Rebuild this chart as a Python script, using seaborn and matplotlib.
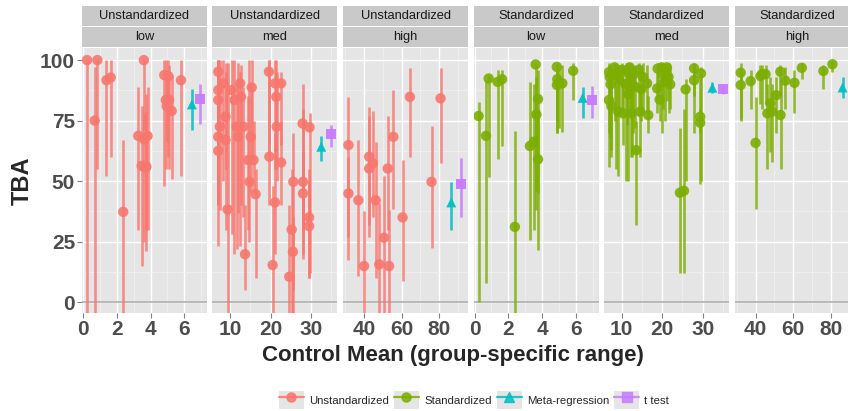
import matplotlib
matplotlib.use("Agg")
import matplotlib.pyplot as plt
from matplotlib.patches import Rectangle, Patch
from matplotlib.lines import Line2D
from matplotlib.legend_handler import HandlerTuple
from matplotlib.ticker import AutoMinorLocator, FixedLocator
import pandas as pd
import seaborn as sns


# ------------------------------------------------------------------ #
# Data: (control mean, TBA, lower, upper)
# ------------------------------------------------------------------ #

unst_low = [
    (0.24, 100, -10, 100), (0.69, 75, -10, 97), (0.85, 100, 55, 100),
    (1.39, 91.7, 52, 100), (1.64, 92.8, 60, 100), (2.38, 37.3, -10, 67),
    (3.27, 68.7, 30, 89), (3.47, 56.3, 15, 81), (3.60, 100, 71, 100),
    (3.62, 67.2, 25, 78), (3.70, 55.5, 21, 79), (3.75, 56.0, 30, 86),
    (3.82, 68.7, 30, 89), (4.81, 93.8, 48, 100), (4.90, 83.5, 55, 100),
    (4.95, 81.0, 66, 95), (5.05, 93.4, 60, 100), (5.10, 83.5, 55, 98),
    (5.25, 79.0, 51, 94), (5.80, 91.7, 52, 100),
]

unst_med = [
    (7.1, 95.2, 23, 100), (7.1, 87.6, 40, 100), (7.1, 83.5, 45, 100),
    (7.5, 72.5, 38, 100), (7.1, 68.3, 55, 80), (7.1, 62.5, 40, 85),
    (8.35, 90.4, 50, 100), (8.9, 76.6, 55, 99), (9.4, 38.3, -10, 99),
    (8.9, 67.0, 30, 95), (10.4, 87.6, 28, 100), (11.1, 83.5, 20, 100),
    (11.6, 72.5, 22, 90), (12.0, 68.3, 37, 99), (12.5, 90.4, 23, 95),
    (12.7, 84.8, 40, 98), (13.3, 72.5, 35, 89), (13.7, 19.8, 5, 40),
    (14.5, 58.7, 30, 85), (14.8, 49.7, 25, 100), (15.35, 88.7, 60, 100),
    (15.1, 68.3, 45, 90), (15.8, 58.7, 45, 75), (16.3, 44.6, 10, 55),
    (19.6, 95.2, 60, 100), (19.7, 60.1, 40, 100), (20.5, 15.3, -10, 48),
    (21.1, 90.4, 55, 100), (21.4, 84.8, 55, 100), (21.1, 41.2, 20, 70),
    (21.5, 72.5, 50, 95), (22.6, 90.4, 65, 95), (22.6, 57.7, 40, 75),
    (24.6, 10.5, -10, 40), (25.2, 30.0, -10, 55), (25.5, 20.8, -10, 35),
    (25.6, 49.7, 5, 70), (27.9, 73.8, 20, 90), (28.0, 49.7, 30, 80),
    (28.0, 44.9, 18, 62), (29.6, 72.2, 12, 78), (29.5, 35.0, 10, 55),
    (29.5, 31.4, 10, 50),
]

unst_high = [
    (31.7, 64.9, 17.4, 84.6), (31.7, 44.9, 27, 60), (37.0, 42.1, 10.7, 67),
    (40.0, 14.9, -10, 37.7), (42.7, 60.1, 27, 80.7), (42.7, 55.2, 32, 77),
    (44.6, 57.3, 35, 79), (46.2, 42.1, 10, 66), (48.1, 15.6, -10, 41),
    (50.6, 26.6, -5, 52), (52.6, 55.2, 30, 77), (53.3, 14.9, -10, 38),
    (55.6, 68.3, 38.3, 87.6), (60.5, 35.0, 8.7, 58.7), (64.4, 84.8, 60, 96.6),
    (75.9, 49.7, 22.2, 72.7), (80.7, 84.2, 57.3, 96.6),
]

std_low = [
    (0.24, 76.9, 0, 82.8), (0.68, 68.7, 7.7, 91.7), (0.84, 92.4, 51.8, 93.5),
    (1.37, 91.0, 59, 96), (1.63, 92.1, 64.5, 96), (2.39, 31.1, -10, 70.8),
    (3.28, 64.5, 25.6, 91), (3.52, 66.3, 30, 90), (3.62, 98.2, 46, 98.2),
    (3.66, 77.5, 38, 93), (3.76, 83.9, 45, 96), (3.76, 59.0, 21.5, 80),
    (4.87, 97.2, 70, 98.5), (4.90, 92.1, 75, 96), (4.88, 89.7, 70, 95),
    (5.00, 90.4, 72, 97), (5.20, 90.4, 70.4, 98), (5.84, 95.6, 83.5, 98.6),
]

std_med = [
    (6.9, 95.0, 70, 99), (7.1, 93.0, 68, 98), (7.3, 90.0, 60, 97),
    (6.9, 83.5, 56, 98), (7.5, 81.0, 63, 95), (8.3, 97.0, 75, 99),
    (8.6, 94.0, 55, 98), (9.2, 78.7, 52, 98), (9.5, 92.0, 78, 98),
    (10.1, 96.0, 80, 99), (10.4, 78.0, 65, 92), (11.0, 90.0, 50, 98),
    (11.3, 95.0, 73, 99), (11.6, 86.0, 50, 97), (12.0, 97.0, 78, 99),
    (12.3, 91.0, 60, 97), (12.5, 78.0, 60, 90), (12.9, 94.0, 70, 98),
    (13.3, 89.0, 72, 97), (13.6, 62.8, 32, 75), (14.2, 96.0, 77, 99),
    (14.6, 78.7, 60, 90), (14.9, 88.0, 75, 98), (15.3, 93.0, 78, 99),
    (16.3, 90.4, 78, 98), (16.6, 77.3, 70, 85), (18.9, 96.5, 84, 99),
    (18.8, 88.3, 78, 95), (19.4, 83.7, 75, 92), (19.9, 97.0, 70, 99),
    (20.3, 94.0, 80, 99), (20.7, 91.0, 75, 97), (21.2, 97.0, 83, 99),
    (21.6, 93.0, 78, 99), (22.0, 90.0, 80, 97), (24.4, 45.2, 12, 72),
    (25.4, 46.0, 12, 80), (25.8, 87.9, 50, 92), (27.9, 96.6, 85, 99),
    (27.9, 91.7, 70, 97), (29.6, 94.5, 50, 97), (29.4, 76.6, 49, 93),
    (29.4, 74.1, 70, 80),
]

std_high = [
    (32.1, 94.8, 75.5, 98.6), (32.1, 89.7, 75, 95), (37.4, 91.3, 80, 96),
    (40.0, 65.8, 38.3, 84.6), (42.6, 93.4, 82, 98), (43.5, 94.2, 80, 98),
    (45.3, 94.2, 82, 98), (46.3, 78.0, 55, 90), (47.9, 82.1, 62, 93),
    (48.8, 78.7, 58, 90), (51.0, 85.5, 70, 93), (53.2, 95.2, 85, 98),
    (53.3, 77.3, 55, 92), (55.8, 91.5, 80, 97), (60.7, 90.6, 78, 96),
    (64.6, 96.8, 92, 99), (76.1, 95.5, 88, 98), (80.9, 98.3, 95, 99.5),
]

# summary estimates per panel: (x, y, lower, upper)
meta_reg = {
    ("Unstandardized", "low"): (6.45, 81.7, 71, 88),
    ("Unstandardized", "med"): (32.5, 64.2, 58.4, 68.6),
    ("Unstandardized", "high"): (86.4, 41.2, 30, 49.7),
    ("Standardized", "low"): (6.40, 84.4, 76, 89),
    ("Standardized", "med"): (32.4, 88.6, 86.5, 91),
    ("Standardized", "high"): (86.3, 88.7, 84.5, 93),
}
t_test = {
    ("Unstandardized", "low"): (6.95, 84.0, 73.5, 90),
    ("Unstandardized", "med"): (35.0, 69.3, 64.2, 73.1),
    ("Unstandardized", "high"): (91.7, 49.0, 35, 59.6),
    ("Standardized", "low"): (6.95, 83.7, 76, 89.5),
    ("Standardized", "med"): (35.0, 88.0, 86, 90),
    ("Standardized", "high"): (91.7, 88.0, 85, 91),
}

scales = ["Unstandardized", "Standardized"]
levels = ["low", "med", "high"]
x_ticks = {"low": [0, 2, 4, 6], "med": [10, 20, 30], "high": [40, 60, 80]}
x_limits = {"low": (-0.06, 7.34), "med": (5.68, 36.5), "high": (28.8, 95.3)}
y_ticks = [0, 25, 50, 75, 100]

colors = {"Unstandardized": "#F8766D", "Standardized": "#7CAE00",
          "Meta-regression": "#00BFC4", "t test": "#C77CFF"}

studies = {("Unstandardized", "low"): unst_low, ("Unstandardized", "med"): unst_med,
           ("Unstandardized", "high"): unst_high, ("Standardized", "low"): std_low,
           ("Standardized", "med"): std_med, ("Standardized", "high"): std_high}

rows = []
for (sc, lv), pts in studies.items():
    for x, y, lo, hi in pts:
        rows.append(dict(scale=sc, level=lv, x=x, y=y, lo=lo, hi=hi))
df = pd.DataFrame(rows)


# ------------------------------------------------------------------ #
# Figure
# ------------------------------------------------------------------ #

sns.set_theme(style="dark")
plt.rcParams["font.family"] = ["Liberation Sans", "DejaVu Sans"]

W, H = 848, 411
fig = plt.figure(figsize=(W / 100, H / 100), dpi=100)

panel_left = [82, 212.5, 343, 473.5, 604, 734.5]
panel_w, panel_top, panel_bot = 125, 48, 313

i = 0
for sc in scales:
    for lv in levels:
        ax = fig.add_axes([panel_left[i] / W, 1 - panel_bot / H,
                           panel_w / W, (panel_bot - panel_top) / H])
        ax.set_facecolor("#E5E5E5")
        for s in ax.spines.values():
            s.set_visible(False)

        ax.set_xlim(*x_limits[lv])
        ax.set_ylim(-4.5, 105)
        ax.xaxis.set_major_locator(FixedLocator(x_ticks[lv]))
        ax.yaxis.set_major_locator(FixedLocator(y_ticks))
        ax.xaxis.set_minor_locator(AutoMinorLocator(2))
        ax.yaxis.set_minor_locator(AutoMinorLocator(2))
        ax.grid(which="major", color="white", lw=1.0)
        ax.grid(which="minor", color="#F2F2F2", lw=0.5)
        ax.set_axisbelow(True)
        ax.tick_params(which="major", length=3.5, width=0.8, color="#7F7F7F",
                       labelsize=15, labelcolor="#4D4D4D", pad=1.5,
                       bottom=True, left=(i == 0), labelleft=(i == 0))
        ax.tick_params(which="minor", length=0)
        for lab in ax.get_xticklabels() + ax.get_yticklabels():
            lab.set_fontweight("bold")

        ax.axhline(0, color="#B3B3B3", lw=1.3, zorder=1)

        sub = df[(df.scale == sc) & (df.level == lv)]
        c = colors[sc]
        ax.vlines(sub.x, sub.lo, sub.hi, color=c, lw=1.9, alpha=0.8, zorder=2)
        sns.scatterplot(data=sub, x="x", y="y", color=c, s=56, alpha=0.9,
                        edgecolor="none", ax=ax, legend=False, zorder=3)

        for name, marker in [("Meta-regression", "^"), ("t test", "s")]:
            table = meta_reg if name == "Meta-regression" else t_test
            mx, my, mlo, mhi = table[(sc, lv)]
            ax.vlines([mx], [mlo], [mhi], color=colors[name], lw=1.9, alpha=0.85, zorder=2)
            ax.scatter([mx], [my], marker=marker, s=52, color=colors[name],
                       edgecolor="none", alpha=0.95, zorder=3)

        ax.set_xlabel("")
        ax.set_ylabel("")

        # two-row facet strip
        px = 1 / (panel_bot - panel_top)
        for k, txt in enumerate([lv, sc]):
            y0 = 1 + px * (1 + 21 * k)
            ax.add_patch(Rectangle((0, y0), 1, 20 * px, transform=ax.transAxes,
                                   facecolor="#C9C9C9", edgecolor="none",
                                   clip_on=False))
            ax.text(0.5, y0 + 10 * px, txt, transform=ax.transAxes,
                    ha="center", va="center", fontsize=9.3, color="#1A1A1A")
        i += 1

fig.text(22 / W, 1 - 181 / H, "TBA", rotation=90, ha="center", va="center",
         fontsize=17, fontweight="bold")
fig.text(453 / W, 1 - 355 / H, "Control Mean (group-specific range)",
         ha="center", va="center", fontsize=16, fontweight="bold")

handles = []
for name, marker in [("Unstandardized", "o"), ("Standardized", "o"),
                     ("Meta-regression", "^"), ("t test", "s")]:
    handles.append((Patch(facecolor="#E5E5E5", edgecolor="none"),
                    Line2D([], [], color=colors[name], marker=marker,
                           markersize=6.5, lw=1.6, alpha=0.85)))
fig.legend(handles, list(colors.keys()),
           handler_map={tuple: HandlerTuple(ndivide=1, pad=0)},
           loc="center", bbox_to_anchor=(474 / W, 1 - 400 / H), ncol=4,
           frameon=False, fontsize=8.2, handlelength=2.2, handleheight=2.0,
           handletextpad=0.45, columnspacing=0.45, borderaxespad=0)

fig.savefig("out.png", dpi=100)
